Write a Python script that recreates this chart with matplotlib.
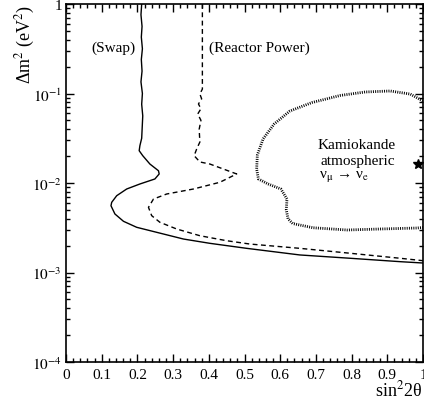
import numpy as np
import matplotlib
matplotlib.use('Agg')
import matplotlib.pyplot as plt
from matplotlib.ticker import FixedLocator, LogLocator, MultipleLocator, NullFormatter

plt.rcParams['font.family'] = ['Liberation Serif', 'DejaVu Serif']
plt.rcParams['mathtext.fontset'] = 'stix'

# ---- data (sin^2 2theta, log10 dm^2) ----
swap_x = [0.212, 0.210, 0.213, 0.211, 0.214, 0.211, 0.213, 0.210, 0.214, 0.212, 0.215, 0.212,
          0.207, 0.205, 0.215, 0.235, 0.259, 0.261, 0.249, 0.207, 0.170, 0.142, 0.128, 0.126,
          0.137, 0.161, 0.198, 0.254, 0.329, 0.403, 0.506, 0.655, 0.796, 0.936, 1.0]
swap_logy = [0.0, -0.12, -0.25, -0.37, -0.50, -0.62, -0.75, -0.87, -1.00, -1.12, -1.25, -1.50,
             -1.583, -1.639, -1.695, -1.788, -1.863, -1.899, -1.955, -2.011, -2.067, -2.142, -2.216, -2.254,
             -2.346, -2.428, -2.495, -2.551, -2.626, -2.674, -2.730, -2.804, -2.841, -2.879, -2.894]

reactor_x = [0.382, 0.382, 0.375, 0.380, 0.371, 0.378, 0.369, 0.378, 0.373, 0.375, 0.366, 0.359,
             0.375, 0.403, 0.478, 0.431, 0.357, 0.282, 0.245, 0.231, 0.240, 0.263, 0.310,
             0.375, 0.450, 0.515, 0.655, 0.796, 0.936, 1.0]
reactor_logy = [0.0, -0.950, -1.006, -1.06, -1.117, -1.17, -1.229, -1.30, -1.400, -1.542, -1.620, -1.695,
                -1.765, -1.788, -1.899, -1.992, -2.067, -2.123, -2.179, -2.272, -2.365, -2.439, -2.514,
                -2.589, -2.645, -2.682, -2.730, -2.785, -2.841, -2.868]

kam_x = [1.0, 0.964, 0.908, 0.838, 0.768, 0.689, 0.627, 0.583, 0.552, 0.536, 0.534, 0.539,
         0.566, 0.602, 0.619, 0.617, 0.622, 0.635, 0.692, 0.787, 0.880, 0.983, 1.0]
kam_logy = [-1.084, -1.006, -0.972, -0.983, -1.022, -1.101, -1.196, -1.341, -1.508, -1.687, -1.844, -1.955,
            -2.011, -2.067, -2.179, -2.300, -2.400, -2.453, -2.500, -2.525, -2.514, -2.503, -2.497]

star_x, star_y = 0.987, 0.0163

ytick_vals = [1e-4, 1e-3, 1e-2, 1e-1, 1]
ytick_labels = ['$10^{-4}$', '$10^{-3}$', '$10^{-2}$', '$10^{-1}$', '1']
xtick_vals = [0, 0.1, 0.2, 0.3, 0.4, 0.5, 0.6, 0.7, 0.8, 0.9, 1.0]
xtick_labels = ['0', '0.1', '0.2', '0.3', '0.4', '0.5', '0.6', '0.7', '0.8', '0.9', '1']

fig = plt.figure(figsize=(4.24, 4.06), dpi=100)
ax = fig.add_axes([66 / 424, 1 - 363 / 406, 357 / 424, 358 / 406])

ax.plot(swap_x, 10 ** np.array(swap_logy), color='black', lw=1.0)
ax.plot(reactor_x, 10 ** np.array(reactor_logy), color='black', lw=1.0,
        linestyle=(0, (3.5, 2.5)))
ax.plot(kam_x, 10 ** np.array(kam_logy), color='black', lw=2.0,
        linestyle=(0, (0.35, 0.45)))
ax.plot([star_x], [star_y], marker='*', color='black', markersize=7, clip_on=False)

ax.set_yscale('log')
ax.set_xlim(0, 1)
ax.set_ylim(1e-4, 1)

ax.xaxis.set_major_locator(FixedLocator(xtick_vals))
ax.xaxis.set_minor_locator(MultipleLocator(0.02))
ax.set_xticklabels(xtick_labels)
ax.yaxis.set_major_locator(FixedLocator(ytick_vals))
ax.yaxis.set_minor_locator(LogLocator(base=10, subs=np.arange(2, 10)))
ax.yaxis.set_minor_formatter(NullFormatter())
ax.set_yticklabels(ytick_labels)

ax.tick_params(which='both', direction='in', top=True, right=True, width=1.0, labelsize=11)
ax.tick_params(which='major', length=6)
ax.tick_params(which='minor', length=3)
ax.tick_params(axis='x', pad=4)
ax.tick_params(axis='y', pad=3)
for s in ax.spines.values():
    s.set_linewidth(1.2)

# text labels
ax.text(0.134, 10 ** -0.48, '(Swap)', ha='center', va='center', fontsize=11)
ax.text(0.543, 10 ** -0.48, '(Reactor Power)', ha='center', va='center', fontsize=11)
ax.text(0.814, 10 ** -1.575, 'Kamiokande', ha='center', va='center', fontsize=11)
ax.text(0.818, 10 ** -1.751, 'atmospheric', ha='center', va='center', fontsize=11)
ax.text(0.709, 10 ** -1.918, 'ν$_{\\mathrm{μ}}$ → ν$_{\\mathrm{e}}$', ha='left', va='center', fontsize=11)

fig.text(25 / 424, 1 - 5 / 406, 'Δm$^2$ (eV$^2$)', rotation=90,
         ha='center', va='top', fontsize=13)
fig.text(422 / 424, 1 - 390 / 406, 'sin$^2$2θ', ha='right', va='center', fontsize=13)

fig.savefig('out.png', dpi=100)
